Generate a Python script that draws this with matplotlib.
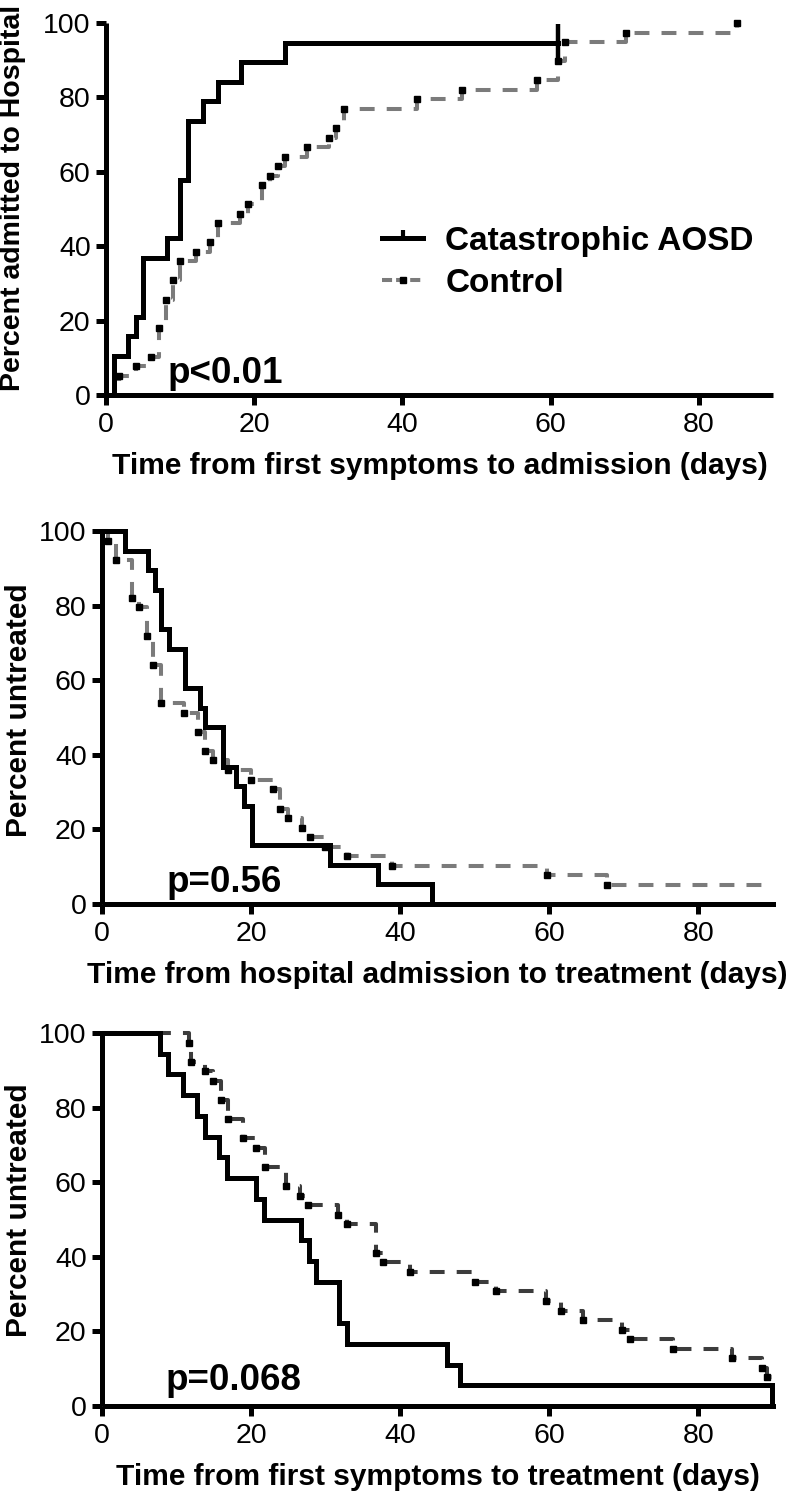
import matplotlib
matplotlib.use('Agg')
import matplotlib.pyplot as plt
from matplotlib.lines import Line2D

# ---------------- data ----------------
xticks = [0, 20, 40, 60, 80]
yticks = [0, 20, 40, 60, 80, 100]

# Panel A: percent admitted to hospital (cumulative)
a_cat_t = [0, 1.1, 3.0, 4.0, 5.0, 8.2, 10.0, 11.0, 13.1, 15.1, 18.2, 24.2]
a_cat_p = [0, 10.5, 15.8, 21.1, 36.8, 42.1, 57.9, 73.7, 78.9, 84.2, 89.5, 94.7]
a_cat_end = 61.0
a_ctl_t = [0, 1.7, 4.1, 6.1, 7.1, 8.1, 9.1, 10.0, 12.1, 14.0, 15.1, 18.1, 19.1,
           21.0, 22.1, 23.2, 24.2, 27.1, 30.1, 31.1, 32.1, 42.0, 48.0, 58.1,
           61.0, 62.0, 70.2, 85.2]
a_ctl_p = [0, 5.1, 7.7, 10.3, 17.9, 25.6, 30.8, 35.9, 38.5, 41.0, 46.2, 48.7,
           51.3, 56.4, 59.0, 61.5, 64.1, 66.7, 69.2, 71.8, 76.9, 79.5, 82.1,
           84.6, 89.7, 94.9, 97.4, 100.0]
a_ctl_end = 85.2

# Panel B: percent untreated after hospital admission
b_cat_t = [0, 3.1, 6.2, 7.1, 7.9, 9.0, 11.1, 13.2, 13.8, 16.2, 18.0, 19.1, 20.1,
           30.6, 37.0, 44.3]
b_cat_p = [100, 94.7, 89.5, 84.2, 73.7, 68.4, 57.9, 52.6, 47.4, 36.8, 31.6, 26.3,
           15.8, 10.5, 5.3, 0]
b_cat_end = 90
b_ctl_t = [0, 0.8, 1.9, 4.0, 5.0, 6.0, 6.9, 7.9, 11.0, 12.9, 13.8, 14.9, 16.9,
           20.0, 22.9, 23.9, 25.0, 26.8, 27.9, 29.9, 32.8, 38.9, 59.7, 67.7]
b_ctl_p = [100, 97.4, 92.3, 82.1, 79.5, 71.8, 64.1, 53.8, 51.3, 46.2, 41.0, 38.5,
           35.9, 33.3, 30.8, 25.6, 23.1, 20.5, 17.9, 15.4, 12.8, 10.3, 7.7, 5.1]
b_ctl_end = 90

# Panel C: percent untreated after first symptoms
c_cat_t = [0, 7.8, 8.8, 10.8, 12.7, 13.8, 15.7, 16.7, 20.7, 21.7, 26.7, 27.8,
           28.7, 31.8, 32.8, 46.3, 48.0, 89.8]
c_cat_p = [100, 94.4, 88.9, 83.3, 77.8, 72.2, 66.7, 61.1, 55.6, 50.0, 44.4, 38.9,
           33.3, 22.2, 16.7, 11.1, 5.6, 0]
c_cat_end = 90
c_ctl_t = [0, 11.7, 12.0, 13.8, 14.9, 15.9, 16.9, 18.9, 20.7, 21.8, 24.7, 26.6,
           27.6, 31.7, 32.8, 36.8, 37.7, 41.3, 50.0, 52.9, 59.6, 61.6, 64.5,
           69.7, 70.8, 76.6, 84.5, 88.5, 89.2]
c_ctl_p = [100, 97.4, 92.3, 89.7, 87.2, 82.1, 76.9, 71.8, 69.2, 64.1, 59.0, 56.4,
           53.8, 51.3, 48.7, 41.0, 38.5, 35.9, 33.3, 30.8, 28.2, 25.6, 23.1,
           20.5, 17.9, 15.4, 12.8, 10.3, 7.7]
c_ctl_end = 90

xlabels = ['Time from first symptoms to admission (days)',
           'Time from hospital admission to treatment (days)',
           'Time from first symptoms to treatment (days)']
ylabels = ['Percent admitted to Hospital', 'Percent untreated', 'Percent untreated']
pvals = ['p<0.01', 'p=0.56', 'p=0.068']
series_names = ['Catastrophic AOSD', 'Control']

# ---------------- style ----------------
FONT = ['Liberation Sans', 'DejaVu Sans']
plt.rcParams['font.family'] = FONT

LW_AX = 3.6
LW_CAT = 3.6
LW_CTL = 2.9
DASH = (0, (3.7, 3.0))

fig = plt.figure(figsize=(7.86, 14.92), dpi=100)
W, H = 786.0, 1492.0
boxes = [(106, 773, 23, 395), (102, 773, 531, 904), (102, 773, 1033, 1406)]
ctl_colors = ['#7b7b7b', '#7b7b7b', '#3c3c3c']
ylab_x = [13.5, 19.5, 19.5]
ylab_y = [0.53, 0.52, 0.525]
ylab_size = [20.5, 21.5, 21.5]
pv_pos = [(8.3, 3.3), (8.6, 3.2), (8.5, 4.2)]

panels = [
    (a_cat_t, a_cat_p, a_cat_end, a_ctl_t, a_ctl_p, a_ctl_end),
    (b_cat_t, b_cat_p, b_cat_end, b_ctl_t, b_ctl_p, b_ctl_end),
    (c_cat_t, c_cat_p, c_cat_end, c_ctl_t, c_ctl_p, c_ctl_end),
]

for i, (ct, cp, cend, kt, kp, kend) in enumerate(panels):
    x0, x1, yt, yb = boxes[i]
    ax = fig.add_axes([x0 / W, 1 - yb / H, (x1 - x0) / W, (yb - yt) / H])
    ax.set_xlim(0, 90)
    ax.set_ylim(0, 100)
    for s in ['top', 'right']:
        ax.spines[s].set_visible(False)
    for s in ['left', 'bottom']:
        ax.spines[s].set_linewidth(LW_AX)
        ax.spines[s].set_capstyle('butt')
    ax.set_xticks(xticks)
    ax.set_yticks(yticks)
    ax.tick_params(axis='both', direction='out', length=7, width=LW_AX,
                   labelsize=20.5, colors='black')
    ax.tick_params(axis='y', pad=4)
    ax.tick_params(axis='x', pad=5)

    # control (dashed grey, black dots at event corners)
    ax.step(kt + [kend], kp + [kp[-1]], where='post', color=ctl_colors[i],
            lw=LW_CTL, linestyle=DASH, clip_on=False, zorder=2)
    ax.plot(kt[1:], kp[1:], linestyle='none', marker='s', ms=4,
            mfc='black', mec='black', clip_on=False, zorder=3)
    # catastrophic (solid black)
    ax.step(ct + [cend], cp + [cp[-1]], where='post', color='black',
            lw=LW_CAT, clip_on=False, zorder=4, solid_joinstyle='miter')
    if i == 0:
        ax.plot([cend], [cp[-1]], linestyle='none', marker='|', ms=28,
                mew=3.2, color='black', clip_on=False, zorder=4)

    ax.set_xlabel(xlabels[i], fontsize=21.5, fontweight='bold')
    ax.xaxis.set_label_coords(0.5, -71.0 / (yb - yt))
    ax.xaxis.label.set_verticalalignment('center')
    ax.set_ylabel(ylabels[i], fontsize=ylab_size[i], fontweight='bold')
    ax.yaxis.set_label_coords((ylab_x[i] - x0) / (x1 - x0), ylab_y[i])
    ax.yaxis.label.set_verticalalignment('center')

    ax.text(pv_pos[i][0], pv_pos[i][1], pvals[i], fontsize=26.5,
            fontweight='bold', ha='left', va='baseline')

    if i == 0:
        handles = [
            Line2D([], [], color='black', lw=LW_CAT, marker=2, ms=6, mew=3),
            Line2D([], [], color=ctl_colors[0], lw=LW_CTL, linestyle=(0, (2.5, 1.0)),
                   marker='s', ms=4, mfc='black', mec='black'),
        ]
        ax.legend(handles, series_names, loc='center left',
                  bbox_to_anchor=(0.414, 0.356), frameon=False,
                  prop={'family': FONT, 'weight': 'bold', 'size': 24},
                  handlelength=1.23, handletextpad=0.66, labelspacing=0.33,
                  borderpad=0, borderaxespad=0, numpoints=1)

fig.savefig('out.png', dpi=100)
